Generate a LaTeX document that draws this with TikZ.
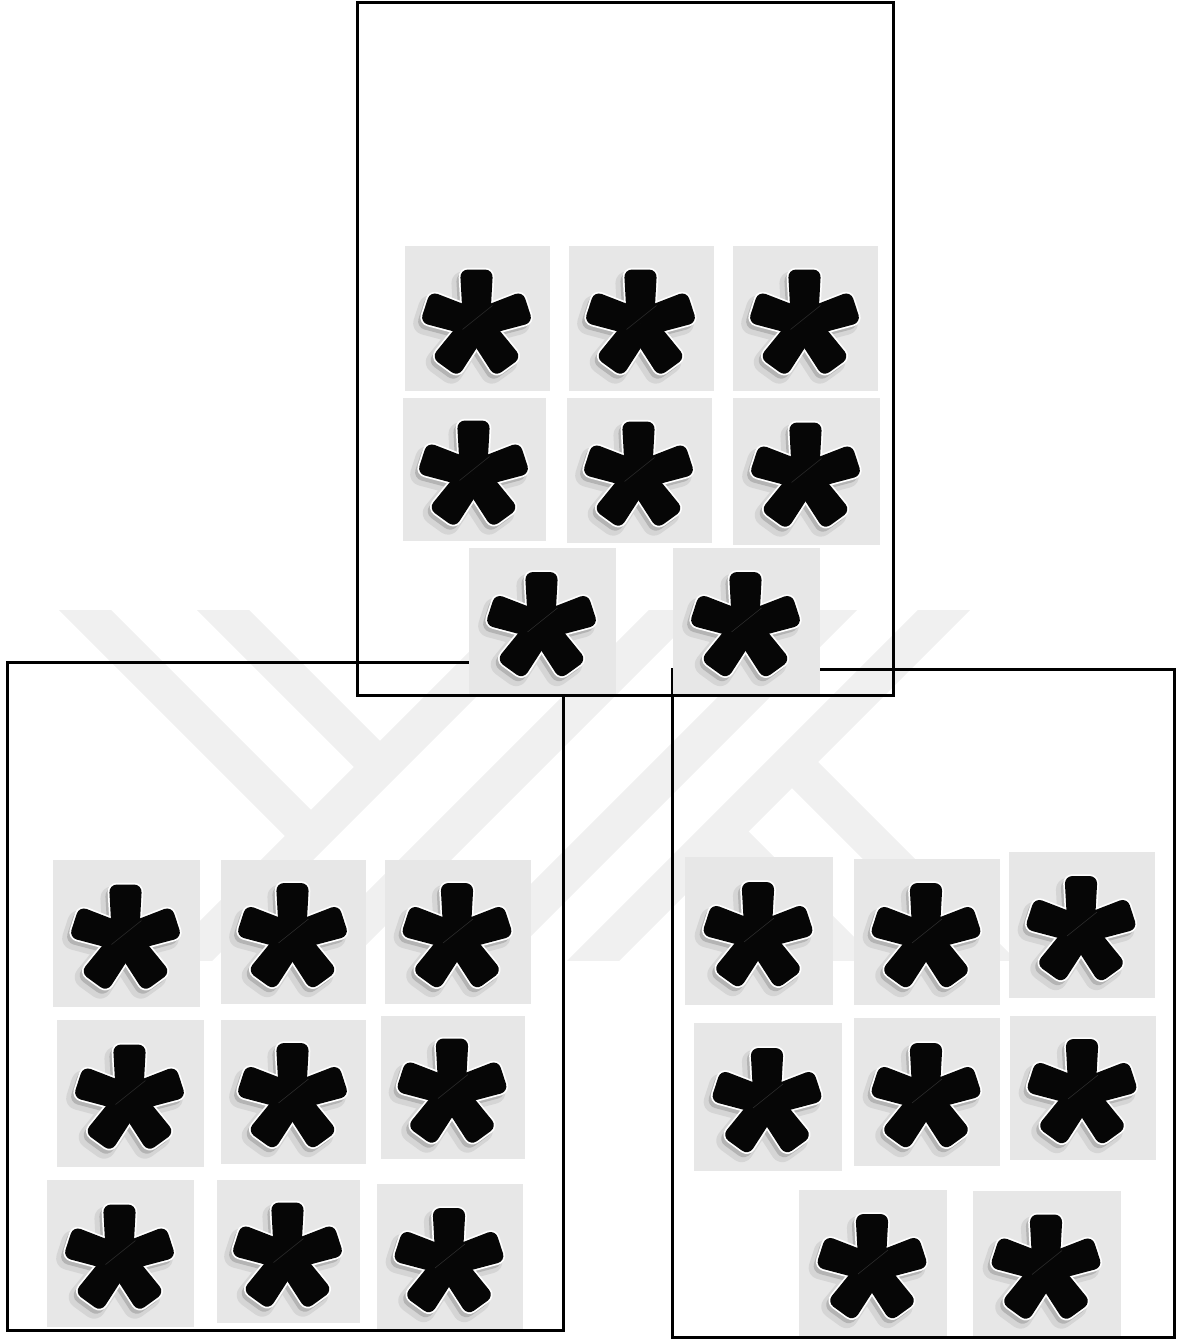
\documentclass[tikz,border=0pt]{standalone}
\definecolor{tilebg}{RGB}{231,231,231}
\definecolor{wmgray}{RGB}{240,240,240}
\definecolor{shA}{RGB}{180,180,180}
\definecolor{shB}{RGB}{213,213,213}
\definecolor{astblack}{RGB}{6,6,6}
\definecolor{streak}{RGB}{42,42,42}
\tikzset{
  tile/.style 2 args={fill=tilebg, draw=none, inner sep=0pt, outer sep=0pt, minimum width=#1, minimum height=#2},
  frame/.style 2 args={draw=black, line width=3, fill=none, inner sep=0pt, outer sep=0pt, minimum width=#1, minimum height=#2},
  wmband/.style={draw=wmgray, line width=37, line cap=butt},
  astk/.pic={
    \begin{scope}[shift={(-1,5)}]
      \begin{scope}[shift={(-5,6)}]
        \foreach \a in {18,90,162,234,306}
          \filldraw[shB, line width=8, line join=round, rounded corners=8, rotate=\a] (0,-13.5) -- (54,-16.5) -- (54,16.5) -- (0,13.5) -- cycle;
      \end{scope}
      \begin{scope}[shift={(-3,4)}]
        \foreach \a in {18,90,162,234,306}
          \filldraw[shA, line width=2, line join=round, rounded corners=8, rotate=\a] (0,-13.5) -- (54,-16.5) -- (54,16.5) -- (0,13.5) -- cycle;
      \end{scope}
      \foreach \a in {18,90,162,234,306}
        \filldraw[white, line width=3.5, line join=round, rounded corners=8, rotate=\a] (0,-13.5) -- (54,-16.5) -- (54,16.5) -- (0,13.5) -- cycle;
      \foreach \a in {18,90,162,234,306}
        \fill[astblack, rounded corners=8, rotate=\a] (0,-13.5) -- (54,-16.5) -- (54,16.5) -- (0,13.5) -- cycle;
      \draw[streak, line width=0.6] (-14,6) -- (16,-18);
    \end{scope}
  }
}
\begin{document}
\begin{tikzpicture}[x=1pt, y=-1pt]
\useasboundingbox (0,0) rectangle (1179,1340);
% faint watermark
\begin{scope}
  \clip (0,610) rectangle (1179,960);
  \draw[wmband] (35,560) -- (317.5,842.5);
  \draw[wmband] (173,560) -- (380,767);
  \draw[wmband] (587,560) -- (107,1040);
  \draw[wmband] (725,560) -- (245,1040);
  \draw[wmband] (881,560) -- (401,1040);
  \draw[wmband] (994,560) -- (514,1040);
  \draw[wmband] (792,762) -- (1070,1040);
  \draw[wmband] (722.5,831.5) -- (990,1099);
\end{scope}
% left box tiles
\node[tile={147}{147}] (b1) at (126.5,933.5) {};
\node[tile={145}{144}] (b2) at (293.5,932) {};
\node[tile={146}{144}] (b3) at (458,932) {};
\node[tile={147}{147}] (b4) at (130.5,1093.5) {};
\node[tile={145}{144}] (b5) at (293.5,1092) {};
\node[tile={144}{143}] (b6) at (453,1087.5) {};
\node[tile={147}{147}] (b7) at (120.5,1253.5) {};
\node[tile={143}{143}] (b8) at (288.5,1251.5) {};
\node[tile={146}{146}] (b9) at (450,1257) {};
\foreach \t in {b1,b2,b3,b4,b5,b6,b7,b8,b9} \pic at (\t) {astk};
% right box tiles
\node[tile={148}{148}] (c1) at (759,931) {};
\node[tile={146}{146}] (c2) at (927,932) {};
\node[tile={146}{146}] (c3) at (1082,925) {};
\node[tile={148}{148}] (c4) at (768,1097) {};
\node[tile={146}{148}] (c5) at (927,1092) {};
\node[tile={146}{144}] (c6) at (1083,1088) {};
\node[tile={148}{146}] (c7) at (873,1263) {};
\node[tile={148}{145}] (c8) at (1047,1263.5) {};
\foreach \t in {c1,c2,c3,c4,c5,c6,c7,c8} \pic at (\t) {astk};
% lower frames
\node[frame={556}{668}] (leftbox) at (285,996) {};
\node[frame={502}{668}] (rightbox) at (923,1003) {};
% top box tiles
\node[tile={145}{145}] (a1) at (477.5,318.5) {};
\node[tile={145}{145}] (a2) at (641.5,318.5) {};
\node[tile={145}{145}] (a3) at (805.5,318.5) {};
\node[tile={143}{143}] (a4) at (474.5,469.5) {};
\node[tile={145}{145}] (a5) at (639.5,470.5) {};
\node[tile={147}{147}] (a6) at (806.5,471.5) {};
\node[tile={147}{146}] (a7) at (542.5,621) {};
\node[tile={147}{146}] (a8) at (746.5,621) {};
\foreach \t in {a1,a2,a3,a4,a5,a6,a7,a8} \pic at (\t) {astk};
% top frame
\node[frame={536}{692}] (topbox) at (625,349) {};
\end{tikzpicture}
\end{document}
